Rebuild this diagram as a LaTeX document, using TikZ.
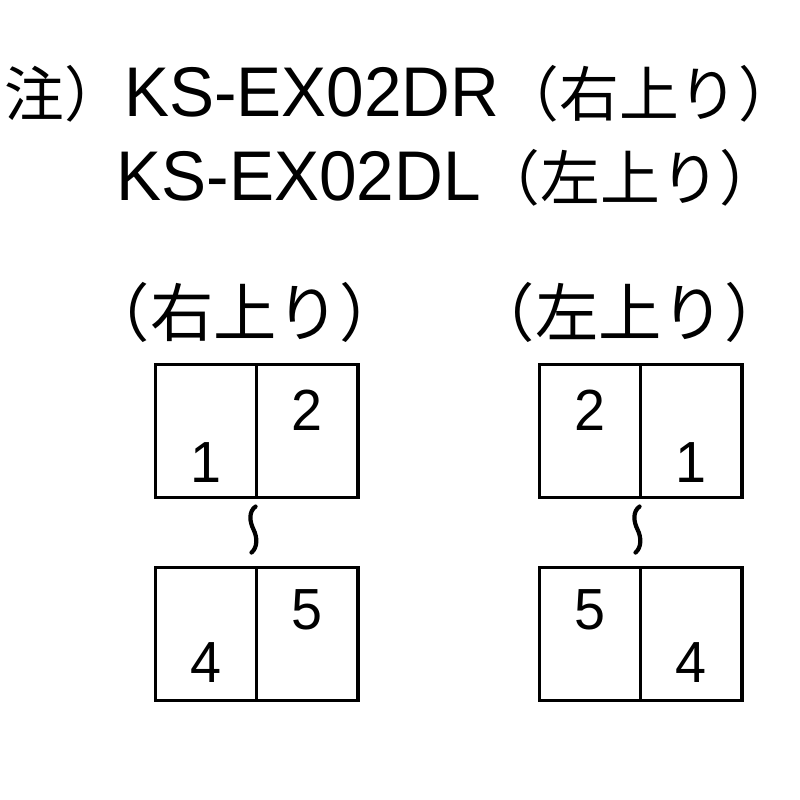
\documentclass[tikz,border=0pt]{standalone}
\usepackage{fontspec}
\setmainfont{Liberation Sans}[FakeStretch=0.96]
\newfontfamily\jp{Noto Sans CJK JP}
\usetikzlibrary{positioning}
\tikzset{cell/.style={rectangle, draw=black, line width=1.1pt, outer sep=0pt, inner sep=0pt, minimum width=1.01cm, minimum height=1.33cm}}
\tikzset{num/.style={inner sep=0pt, font=\fontsize{16.5}{16}\selectfont}}
\tikzset{head/.style={anchor=west, inner sep=0pt, font=\fontsize{20}{24}\selectfont}}
\tikzset{sub/.style={inner sep=0pt, font=\jp\fontsize{18}{20}\selectfont}}
\tikzset{wave/.style={line width=1.2pt, line cap=round}}
\newcommand{\jpt}[1]{{\jp\fontsize{17}{20}\selectfont #1}}

\begin{document}
\begin{tikzpicture}[x=0.01cm, y=-0.01cm]
    \useasboundingbox (0,0) rectangle (800,800);

    \node (hd1) [head] at (4,94) {\jpt{注）}KS-EX02DR\jpt{（右上り）}};
    \node (hd2) [head] at (116,178) {KS-EX02DL\jpt{（左上り）}};

    \node (subR) [sub] at (245,312) {（右上り）};
    \node (subL) [sub] at (630,312) {（左上り）};

    % right-up
    \node (r1) [cell] at (206,431) {};
    \node (r2) [cell, right=0pt of r1] {};
    \node (r4) [cell] at (206,634) {};
    \node (r5) [cell, right=0pt of r4] {};
    \node (n1) [num] at ([yshift=-9pt]r1.center) {1};
    \node (n2) [num] at ([yshift=6pt]r2.center) {2};
    \node (n4) [num] at ([yshift=-8pt]r4.center) {4};
    \node (n5) [num] at ([yshift=7pt]r5.center) {5};
    \coordinate (wR) at ([shift={(-3,32)}]r1.south east);
    \draw [wave] ([shift={(2,-23)}]wR) .. controls +(-7,5) and +(-4,-8) .. (wR)
                 .. controls +(4,8) and +(6,-5) .. ([shift={(-2,23)}]wR);

    % left-up
    \node (l2) [cell] at (590,431) {};
    \node (l1) [cell, right=0pt of l2] {};
    \node (l5) [cell] at (590,634) {};
    \node (l4) [cell, right=0pt of l5] {};
    \node (m2) [num] at ([yshift=6pt]l2.center) {2};
    \node (m1) [num] at ([yshift=-9pt]l1.center) {1};
    \node (m5) [num] at ([yshift=7pt]l5.center) {5};
    \node (m4) [num] at ([yshift=-8pt]l4.center) {4};
    \coordinate (wL) at ([shift={(-3,32)}]l2.south east);
    \draw [wave] ([shift={(2,-23)}]wL) .. controls +(-7,5) and +(-4,-8) .. (wL)
                 .. controls +(4,8) and +(6,-5) .. ([shift={(-2,23)}]wL);
\end{tikzpicture}
\end{document}
